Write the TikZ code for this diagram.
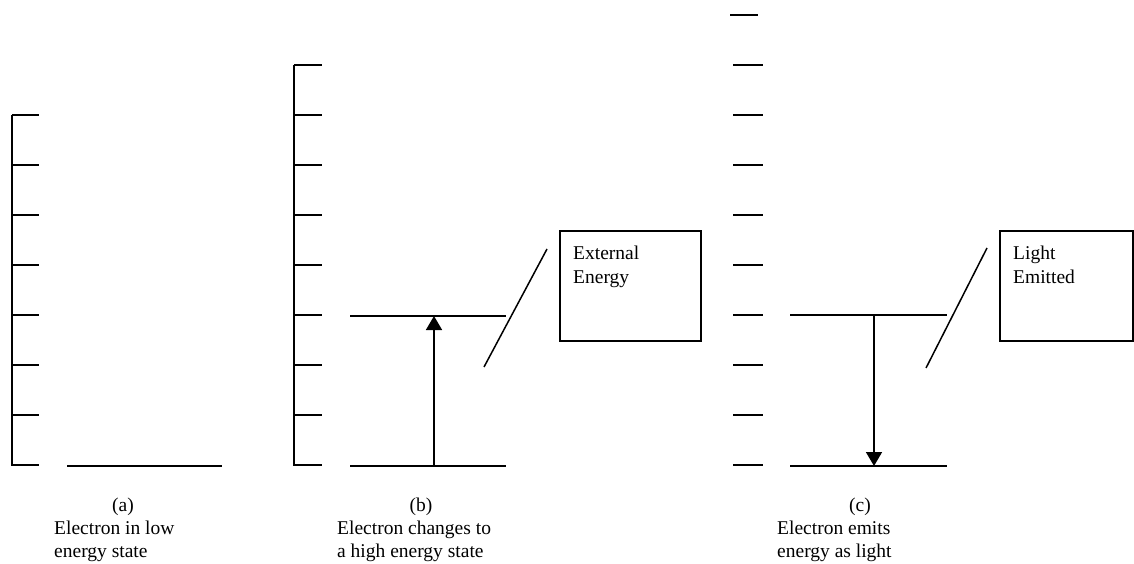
\documentclass[tikz,border=0pt]{standalone}
\usepackage{fontspec}
\setmainfont{Liberation Serif}
\usetikzlibrary{arrows.meta}
\begin{document}
\begin{tikzpicture}[x=1pt,y=-1pt,
  tick/.style={line width=1.8pt},
  level/.style={line width=1.7pt},
  slash/.style={line width=1.5pt},
  lbl/.style={font=\fontsize{19.5}{23}\selectfont, inner sep=0pt},
  box/.style={draw, line width=1.7pt, anchor=north west, inner sep=0pt},
  trans/.style={line width=1.6pt, -{Triangle[width=16pt,length=14pt]}}]
\useasboundingbox (0,0) rectangle (1134,564);
% panel (a)
\draw[tick] (12,115) -- (12,466);
\foreach \y in {115,165,...,465} \draw[tick] (12,\y) -- (39,\y);
\draw[level] (67,466) -- (222,466);
% panel (b)
\draw[tick] (294,65) -- (294,466);
\foreach \y in {65,115,...,465} \draw[tick] (294,\y) -- (322,\y);
\draw[level] (350,316) -- (506,316);
\draw[level] (350,466) -- (506,466);
\coordinate (b0) at (434,466);
\coordinate (b1) at (434,316);
\draw[trans] (b0) -- (b1);
\coordinate (bs0) at (484,367);
\coordinate (bs1) at (547,249);
\draw[slash] (bs0) -- (bs1);
\node[box, minimum width=141pt, minimum height=110pt] (boxb) at (559,230) {};
\node[lbl, anchor=base west] (tb1) at (573,259) {External};
\node[lbl, anchor=base west] (tb2) at (573,283) {Energy};
% panel (c)
\draw[tick] (730,15) -- (758,15);
\foreach \y in {65,115,...,465} \draw[tick] (733,\y) -- (763,\y);
\draw[level] (790,315) -- (947,315);
\draw[level] (790,466) -- (947,466);
\coordinate (c0) at (874,315);
\coordinate (c1) at (874,466);
\draw[trans] (c0) -- (c1);
\coordinate (cs0) at (926,368);
\coordinate (cs1) at (987,248);
\draw[slash] (cs0) -- (cs1);
\node[box, minimum width=133pt, minimum height=110pt] (boxc) at (999,230) {};
\node[lbl, anchor=base west] (tc1) at (1013,259) {Light};
\node[lbl, anchor=base west] (tc2) at (1013,283) {Emitted};
% captions
\node[lbl, anchor=base] (ca) at (123,511) {(a)};
\node[lbl, anchor=base west] (ca1) at (54,534) {Electron in low};
\node[lbl, anchor=base west] (ca2) at (54,557) {energy state};
\node[lbl, anchor=base] (cb) at (421,511) {(b)};
\node[lbl, anchor=base west] (cb1) at (337,534) {Electron changes to};
\node[lbl, anchor=base west] (cb2) at (337,557) {a high energy state};
\node[lbl, anchor=base] (cc) at (860,511) {(c)};
\node[lbl, anchor=base west] (cc1) at (777,534) {Electron emits};
\node[lbl, anchor=base west] (cc2) at (777,557) {energy as light};
\end{tikzpicture}
\end{document}
